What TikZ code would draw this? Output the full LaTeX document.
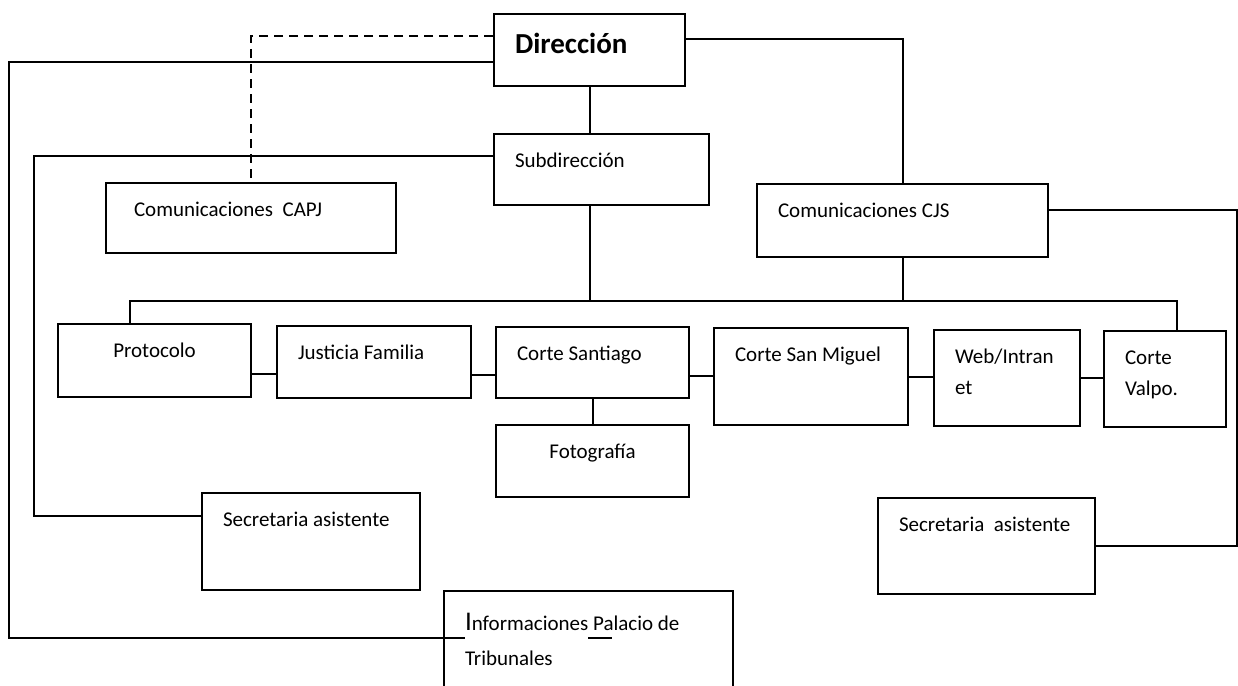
\documentclass[tikz,border=0pt]{standalone}
\usepackage{fontspec}
\setmainfont{Carlito}
\usetikzlibrary{positioning}

\tikzset{
    box/.style 2 args={
        draw, rectangle, line width=2pt, anchor=north west,
        inner xsep=21pt, inner ysep=0pt, align=flush left,
        font=\fontsize{21}{31}\selectfont,
        minimum width=#1pt, text width=#1pt-42pt,
        text height=33pt, text depth=#2pt-33pt
    },
    head/.style={font=\bfseries\fontsize{29}{35}\selectfont, text height=40pt, text depth=32pt},
    link/.style={line width=2pt},
}

\begin{document}
\begin{tikzpicture}[x=1pt, y=-1pt]
    \useasboundingbox (0,0) rectangle (1238,685);

    % upper part
    \node[box={191}{72}, head] (dir) at (493,13) {Dirección};
    \node[box={215}{71}] (sub) at (493,133) {Subdirección};
    \node[box={290}{70}] (capj) at (105,182) {\hspace*{7pt}Comunicaciones\ \ CAPJ};
    \node[box={291}{73}] (cjs) at (756,183) {Comunicaciones CJS};

    % row of units
    \node[box={193}{73}, align=flush center] (prot) at (57,323) {Protocolo};
    \node[box={194}{72}, below right=2pt and 24pt of prot.north east] (just) {Justicia Familia};
    \node[box={193}{71}, below right=1pt and 23pt of just.north east] (cs) {Corte Santiago};
    \node[box={194}{97}, below right=1pt and 23pt of cs.north east] (csm) {Corte San Miguel};
    \node[box={146}{96}, below right=2pt and 24pt of csm.north east] (web) {Web/Intran\\et};
    \node[box={122}{96}, below right=1pt and 22pt of web.north east] (valpo) {Corte\\Valpo.};
    \node[box={193}{72}, align=flush center, below right=25pt and 0pt of cs.south west] (foto) {Fotografía};

    % assistants
    \node[box={218}{97}] (secL) at (201,492) {Secretaria asistente};
    \node[box={217}{96}] (secR) at (877,497) {\mbox{Secretaria\ \ asistente}};
    \node[box={289}{110}, font=\fontsize{21}{35}\selectfont, text height=39pt, text depth=71pt] (info) at (443,590)
        {\mbox{{\fontsize{27}{35}\selectfont I}nformaciones Palacio de}\\Tribunales};

    \coordinate (bus) at (589,301);
    \coordinate (outerL) at (9,0);
    \coordinate (innerL) at (34,0);
    \coordinate (outerR) at (1237,0);

    % tree
    \draw[link] (dir.south) -- (dir.south |- sub.north);
    \draw[link] (dir.south |- sub.south) -- (dir.south |- bus);
    \draw[link] ([xshift=-25pt]prot.north) |- ([xshift=12pt]valpo.north |- bus) -- ([xshift=12pt]valpo.north);
    \draw[link] (cjs.south) -- (cjs.south |- bus);
    \draw[link] ([yshift=11pt]dir.east) -| (cjs.north);
    \draw[link, dash pattern=on 9pt off 6pt] ([yshift=14pt]dir.west) -| (capj.north);
    \draw[link] (cs.south) -- (foto.north);

    % side links in the row
    \draw[link] ([yshift=-13.5pt]prot.east) -- ([yshift=-13.5pt]prot.east -| just.west);
    \draw[link] ([yshift=-13pt]just.east) -- ([yshift=-13pt]just.east -| cs.west);
    \draw[link] ([yshift=-13.5pt]cs.east) -- ([yshift=-13.5pt]cs.east -| csm.west);
    \draw[link] (csm.east) -- (csm.east -| web.west);
    \draw[link] (web.east) -- (web.east -| valpo.west);

    % outer rails
    \draw[link] ([yshift=-12pt]dir.west) -| ([yshift=-48pt]info.north west -| outerL) -- ([shift={(22pt,-48pt)}]info.north west);
    \draw[link] ([shift={(145pt,-48pt)}]info.north west) -- ++(24pt,0);
    \draw[link] ([yshift=13.5pt]sub.west) -| ([yshift=25.5pt]secL.west -| innerL) -- ([yshift=25.5pt]secL.west);
    \draw[link] ([yshift=10.5pt]cjs.east) -| (secR.east -| outerR) -- (secR.east);
\end{tikzpicture}
\end{document}
